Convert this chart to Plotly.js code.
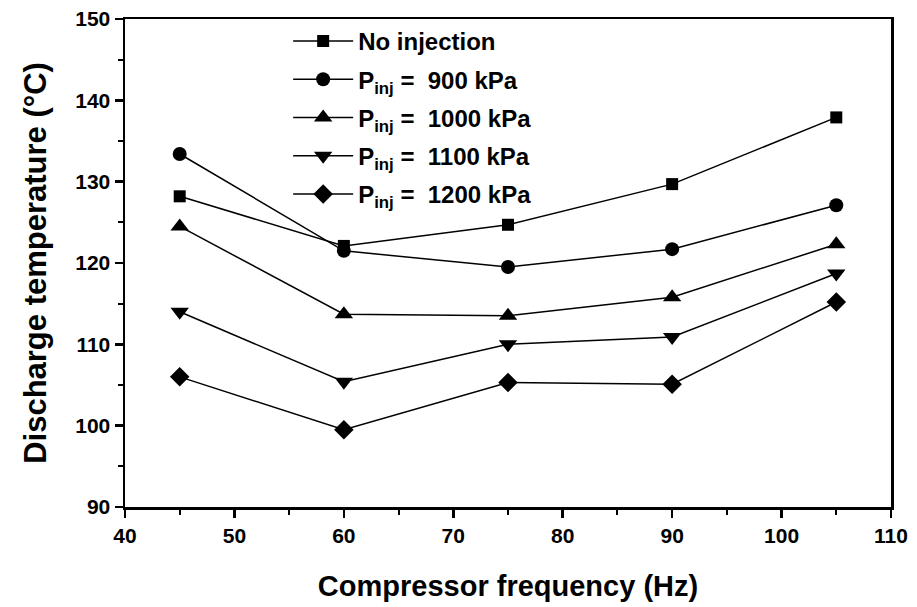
<!DOCTYPE html>
<html>
<head>
<meta charset="utf-8">
<script src="https://cdn.plot.ly/plotly-3.0.1.min.js"></script>
<style>html,body{margin:0;padding:0;background:#fff;}#chart{width:917px;height:607px;}
#chart .xtick text, #chart .ytick text {font-weight: bold !important;}</style>
</head>
<body>
<div id="chart"></div>
<script>
const frequency = [45, 60, 75, 90, 105];
const noInjection = [128.2, 122.1, 124.7, 129.7, 137.9];
const pinj900 = [133.4, 121.5, 119.5, 121.7, 127.1];
const pinj1000 = [124.5, 113.7, 113.5, 115.8, 122.3];
const pinj1100 = [114.0, 105.4, 110.0, 110.9, 118.7];
const pinj1200 = [106.0, 99.5, 105.3, 105.1, 115.2];
const seriesNames = ['No injection', 'P<sub>inj</sub> =  900 kPa', 'P<sub>inj</sub> =  1000 kPa', 'P<sub>inj</sub> =  1100 kPa', 'P<sub>inj</sub> =  1200 kPa'];
const xTickVals = [40, 50, 60, 70, 80, 90, 100, 110];
const yTickVals = [90, 100, 110, 120, 130, 140, 150];

const seriesValues = [noInjection, pinj900, pinj1000, pinj1100, pinj1200];
const symbols = ['square', 'circle', 'triangle-up', 'triangle-down', 'diamond'];
const sizes = [12, 14, 16, 16, 15];

const FONT = 'Liberation Sans, Arial, sans-serif';

const traces = seriesValues.map((vals, i) => ({
  x: frequency,
  y: vals,
  name: '<b>' + seriesNames[i] + '</b>',
  legendgroup: 'g' + i,
  type: 'scatter',
  mode: 'lines+markers',
  line: {color: '#000', width: 1.5},
  marker: {symbol: symbols[i], size: sizes[i], color: '#000'}
}));

const axisCommon = {
  showgrid: false,
  zeroline: false,
  showline: true,
  linecolor: '#000',
  linewidth: 2.5,
  mirror: true,
  ticks: 'outside',
  ticklen: 8,
  tickwidth: 2.5,
  tickcolor: '#000',
  tickmode: 'array',
  tickfont: {family: FONT, size: 21, color: '#000', weight: 'bold'}
};

const layout = {
  width: 917,
  height: 607,
  margin: {l: 125, r: 26, t: 19, b: 100},
  paper_bgcolor: '#fff',
  plot_bgcolor: '#fff',
  showlegend: true,
  legend: {
    x: 0.213, y: 1.0, xanchor: 'left', yanchor: 'top',
    bgcolor: 'rgba(0,0,0,0)',
    font: {family: FONT, size: 24, color: '#000', weight: 'bold'},
    itemwidth: 60,
    tracegroupgap: 4
  },
  xaxis: Object.assign({}, axisCommon, {
    range: [40, 110],
    tickvals: xTickVals,
    ticktext: xTickVals.map(v => '<b>' + v + '</b>'),
    minor: {dtick: 5, tick0: 40, ticks: 'outside', ticklen: 5, tickwidth: 2, tickcolor: '#000'},
    title: {text: '<b>Compressor frequency (Hz)</b>', font: {family: FONT, size: 29, color: '#000', weight: 'bold'}, standoff: 30}
  }),
  yaxis: Object.assign({}, axisCommon, {
    range: [90, 150],
    tickvals: yTickVals,
    ticktext: yTickVals.map(v => '<b>' + v + '</b>'),
    minor: {dtick: 5, tick0: 90, ticks: 'outside', ticklen: 5, tickwidth: 2, tickcolor: '#000'},
    title: {text: '<b>Discharge temperature (°C)</b>', font: {family: FONT, size: 31, color: '#000', weight: 'bold'}, standoff: 20}
  })
};

Plotly.newPlot('chart', traces, layout, {displayModeBar: false, staticPlot: true});
</script>
</body>
</html>
